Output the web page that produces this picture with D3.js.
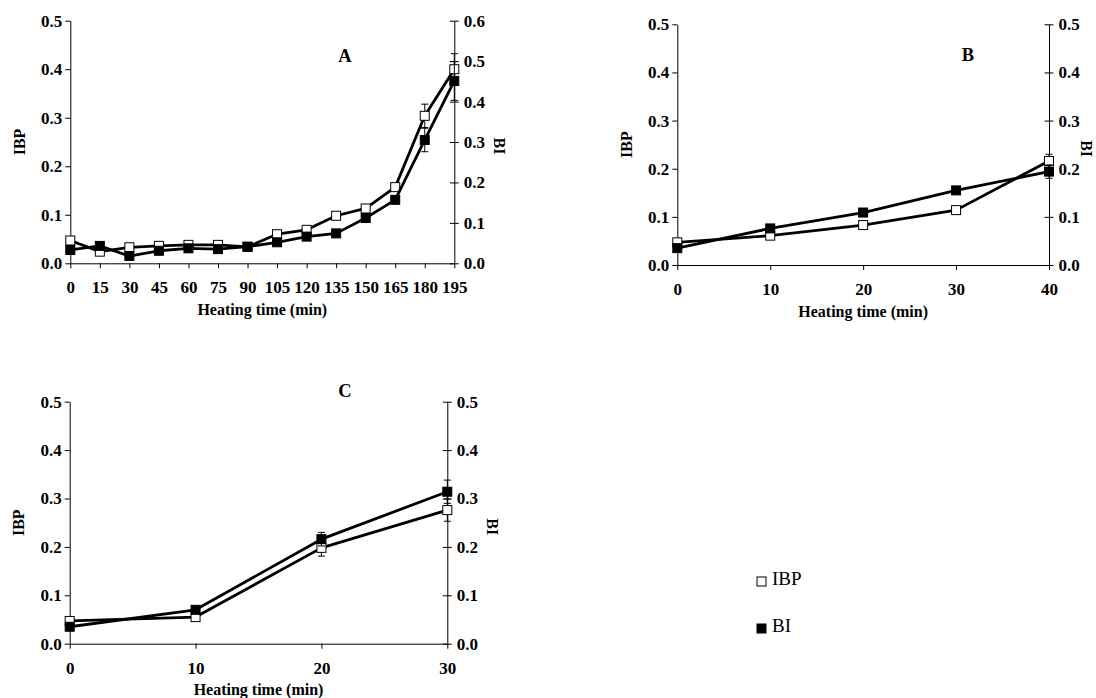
<!DOCTYPE html>
<html>
<head>
<meta charset="utf-8">
<script src="https://cdn.jsdelivr.net/npm/d3@7"></script>
<style>
  body { margin: 0; background: #fff; }
  svg text { font-family: "Liberation Serif", "Times New Roman", serif; }
</style>
</head>
<body>
<svg id="chart" width="1096" height="698"></svg>
<script>
// ---- Panel A: heating up to 195 min ----
const timeA   = [0, 15, 30, 45, 60, 75, 90, 105, 120, 135, 150, 165, 180, 195];
const ibpA    = [0.047, 0.024, 0.033, 0.036, 0.038, 0.038, 0.034, 0.060, 0.069, 0.098, 0.113, 0.157, 0.304, 0.400];
const ibpErrA = [0.004, 0.004, 0.003, 0.003, 0.003, 0.003, 0.003, 0.004, 0.004, 0.005, 0.005, 0.006, 0.024, 0.032];
const biA     = [0.033, 0.043, 0.018, 0.031, 0.037, 0.035, 0.041, 0.052, 0.066, 0.074, 0.112, 0.157, 0.305, 0.451];
const biErrA  = [0.004, 0.004, 0.003, 0.003, 0.003, 0.003, 0.003, 0.004, 0.004, 0.005, 0.006, 0.007, 0.029, 0.048];
const ticksXA = [0, 15, 30, 45, 60, 75, 90, 105, 120, 135, 150, 165, 180, 195];

// ---- Panel B: heating up to 40 min ----
const timeB   = [0, 10, 20, 30, 40];
const ibpB    = [0.047, 0.061, 0.083, 0.114, 0.216];
const ibpErrB = [0.003, 0.004, 0.004, 0.005, 0.014];
const biB     = [0.035, 0.076, 0.109, 0.155, 0.194];
const biErrB  = [0.003, 0.004, 0.004, 0.007, 0.014];
const ticksXB = [0, 10, 20, 30, 40];

// ---- Panel C: heating up to 30 min ----
const timeC   = [0, 10, 20, 30];
const ibpC    = [0.047, 0.055, 0.198, 0.276];
const ibpErrC = [0.003, 0.004, 0.017, 0.023];
const biC     = [0.035, 0.070, 0.216, 0.314];
const biErrC  = [0.003, 0.004, 0.014, 0.024];
const ticksXC = [0, 10, 20, 30];

const ticksIBP = [0, 0.1, 0.2, 0.3, 0.4, 0.5];
const ticksBI6 = [0, 0.1, 0.2, 0.3, 0.4, 0.5, 0.6];
const ticksBI5 = [0, 0.1, 0.2, 0.3, 0.4, 0.5];

const svg = d3.select("#chart");
svg.append("rect").attr("width", 1096).attr("height", 698).attr("fill", "#fff");

const TICK_FS = 17, TITLE_FS = 16, LETTER_FS = 18.5;
const fmt1 = d3.format(".1f");

function styleAxis(g, fs) {
  g.selectAll("path.domain").attr("stroke", "#000").attr("stroke-width", 1);
  g.selectAll(".tick line").attr("stroke", "#000").attr("stroke-width", 1);
  g.selectAll(".tick text")
    .attr("font-family", '"Liberation Serif", "Times New Roman", serif')
    .attr("font-weight", "bold")
    .attr("font-size", fs)
    .attr("fill", "#000");
  g.attr("font-family", null).attr("font-size", null);
}

function drawPanel(p) {
  const x  = d3.scaleLinear().domain(p.xDomain).range([p.left, p.right]);
  const yL = d3.scaleLinear().domain([0, 0.5]).range([p.bottom, p.top]);
  const yR = d3.scaleLinear().domain([0, p.biMax]).range([p.bottom, p.top]);
  const g = svg.append("g");

  // bottom axis
  const gx = g.append("g").attr("transform", `translate(0,${p.bottom})`)
    .call(d3.axisBottom(x).tickValues(p.xTicks).tickSize(5).tickSizeOuter(0)
      .tickPadding(13).tickFormat(d3.format("d")));
  styleAxis(gx, TICK_FS);

  // left axis (IBP)
  const gl = g.append("g").attr("transform", `translate(${p.left},0)`)
    .call(d3.axisLeft(yL).tickValues(ticksIBP).tickSize(5).tickSizeOuter(0)
      .tickPadding(3).tickFormat(fmt1));
  styleAxis(gl, TICK_FS);

  // right axis (BI) with ticks crossing the axis line
  const gr = g.append("g").attr("transform", `translate(${p.right},0)`)
    .call(d3.axisRight(yR).tickValues(p.biTicks).tickSize(4.5).tickSizeOuter(0)
      .tickPadding(5).tickFormat(fmt1));
  gr.selectAll(".tick line").attr("x1", -4.5);
  styleAxis(gr, TICK_FS);

  // axis titles
  g.append("text")
    .attr("x", (p.left + p.right) / 2).attr("y", p.bottom + 48)
    .attr("text-anchor", "middle").attr("dominant-baseline", "middle")
    .attr("font-weight", "bold").attr("font-size", TITLE_FS)
    .text("Heating time (min)");
  g.append("text")
    .attr("transform", `translate(${p.left - 49},${(p.top + p.bottom) / 2}) rotate(-90)`)
    .attr("text-anchor", "middle").attr("dominant-baseline", "middle")
    .attr("font-weight", "bold").attr("font-size", TITLE_FS)
    .text("IBP");
  g.append("text")
    .attr("transform", `translate(${Math.min(p.right + 43, 1085)},${(p.top + p.bottom) / 2 + 4}) rotate(90)`)
    .attr("text-anchor", "middle").attr("dominant-baseline", "middle")
    .attr("font-weight", "bold").attr("font-size", TITLE_FS)
    .text("BI");

  // panel letter
  g.append("text")
    .attr("x", p.letterX).attr("y", p.letterY)
    .attr("text-anchor", "middle").attr("dominant-baseline", "middle")
    .attr("font-weight", "bold").attr("font-size", LETTER_FS)
    .text(p.letter);

  const series = [
    { vals: p.ibp, err: p.ibpErr, y: yL, fill: "#fff" },
    { vals: p.bi,  err: p.biErr,  y: yR, fill: "#000" }
  ];

  series.forEach(s => {
    const pts = p.time.map((t, i) => ({ t, v: s.vals[i], e: s.err[i] }));
    // error bars
    const eb = g.append("g").attr("stroke", "#000").attr("stroke-width", 1);
    pts.forEach(d => {
      const cx = x(d.t), y1 = s.y(d.v - d.e), y2 = s.y(d.v + d.e);
      eb.append("line").attr("x1", cx).attr("x2", cx).attr("y1", y1).attr("y2", y2);
      eb.append("line").attr("x1", cx - 3.5).attr("x2", cx + 3.5).attr("y1", y1).attr("y2", y1);
      eb.append("line").attr("x1", cx - 3.5).attr("x2", cx + 3.5).attr("y1", y2).attr("y2", y2);
    });
    // connecting line
    g.append("path").datum(pts)
      .attr("fill", "none").attr("stroke", "#000").attr("stroke-width", 2.8)
      .attr("stroke-linejoin", "round")
      .attr("d", d3.line().x(d => x(d.t)).y(d => s.y(d.v)));
    // square markers
    g.append("g").selectAll("rect").data(pts).join("rect")
      .attr("x", d => x(d.t) - 4.5).attr("y", d => s.y(d.v) - 4.5)
      .attr("width", 9).attr("height", 9)
      .attr("fill", s.fill).attr("stroke", "#000").attr("stroke-width", 1);
  });
}

drawPanel({
  left: 70.3, right: 454.3, top: 20.7, bottom: 263.3,
  xDomain: [0, 195], xTicks: ticksXA, biMax: 0.6, biTicks: ticksBI6,
  time: timeA, ibp: ibpA, ibpErr: ibpErrA, bi: biA, biErr: biErrA,
  letter: "A", letterX: 345, letterY: 58
});
drawPanel({
  left: 677.3, right: 1049, top: 24.3, bottom: 265,
  xDomain: [0, 40], xTicks: ticksXB, biMax: 0.5, biTicks: ticksBI5,
  time: timeB, ibp: ibpB, ibpErr: ibpErrB, bi: biB, biErr: biErrB,
  letter: "B", letterX: 968, letterY: 57
});
drawPanel({
  left: 69.7, right: 447.3, top: 401.7, bottom: 643.7,
  xDomain: [0, 30], xTicks: ticksXC, biMax: 0.5, biTicks: ticksBI5,
  time: timeC, ibp: ibpC, ibpErr: ibpErrC, bi: biC, biErr: biErrC,
  letter: "C", letterX: 345, letterY: 393
});

// legend
const legendItems = [
  { name: "IBP", fill: "#fff", y: 581 },
  { name: "BI",  fill: "#000", y: 628 }
];
const lg = svg.append("g");
legendItems.forEach(it => {
  lg.append("rect").attr("x", 757).attr("y", it.y - 4).attr("width", 9).attr("height", 9)
    .attr("fill", it.fill).attr("stroke", "#000").attr("stroke-width", 1);
  lg.append("text").attr("x", 772).attr("y", it.y).attr("dominant-baseline", "middle")
    .attr("font-size", 19).text(it.name);
});
</script>
</body>
</html>
